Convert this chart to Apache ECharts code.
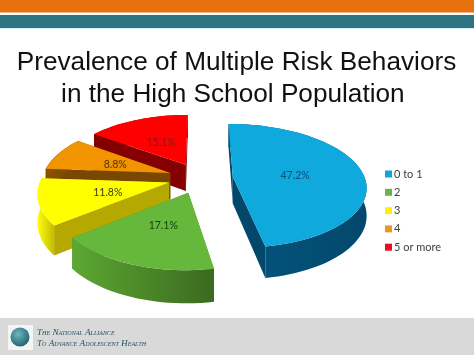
<!DOCTYPE html>
<html>
<head>
<meta charset="utf-8">
<style>
  html, body { margin: 0; padding: 0; background: #fff; }
  #chart { width: 474px; height: 355px; }
</style>
<script src="https://cdn.jsdelivr.net/npm/echarts@6/dist/echarts.min.js"></script>
</head>
<body>
<div id="chart"></div>
<script>
const categories = ['0 to 1', '2', '3', '4', '5 or more'];
const values = [47.2, 17.1, 11.8, 8.8, 15.1];
const drawOrder = [0, 4, 3, 2, 1]; // blue apart, then back to front
const topColors = ['#0FA9DE', '#66B83C', '#FFFF00', '#F29400', '#FF0000'];
const legendColors = ['#12A5D8', '#6BB350', '#FFF200', '#E9991F', '#E8101C'];
const wallColors = [
  { inner: '#03476B', outerFrom: '#03567E', outerTo: '#03486C' },
  { inner: '#4E8F2B', outerFrom: '#5CA732', outerTo: '#3B6A1F' },
  { inner: '#B5A800', outerFrom: '#FFFF10', outerTo: '#C4BC00' },
  { inner: '#7A4700', outerFrom: '#8A5200', outerTo: '#7A4700' },
  { inner: '#850000', outerFrom: '#850000', outerTo: '#700000' }
];
const labelColors = ['#0B4F78', '#123D0E', '#3A3A10', '#4A3510', '#8C1414'];

// tilted pie projection
const cx = 200, cy = 178;
const scaleXRight = 132, scaleXLeft = 128, scaleY = 61;
const perspective = 0.149;
const explode = 0.25;
const depth = 27;

const total = values.reduce((a, b) => a + b, 0);

function project(slice, r, theta) {
  const X = r * Math.sin(theta) + explode * Math.sin(slice.mid);
  const Y = -r * Math.cos(theta) - explode * Math.cos(slice.mid);
  const s = 1 / (1 - perspective * Y);
  const scaleX = X < 0 ? scaleXLeft : scaleXRight;
  return { x: cx + X * scaleX * s, y: cy + Y * scaleY * s, s };
}

let running = 0;
const slices = values.map(v => {
  const start = running / total * Math.PI * 2;
  running += v;
  const end = running / total * Math.PI * 2;
  return { start, end, mid: (start + end) / 2 };
});

function renderSlice(i) {
  return function () {
    const slice = slices[i];
    const walls = wallColors[i];
    const steps = Math.max(8, Math.round((slice.end - slice.start) * 24));
    const apex = project(slice, 0, 0);
    const rim = [];
    for (let k = 0; k <= steps; k++) {
      rim.push(project(slice, 1, slice.start + (slice.end - slice.start) * k / steps));
    }
    const drop = p => [p.x, p.y + depth * p.s];
    const flat = p => [p.x, p.y];
    const quad = (pts, fill) => ({ type: 'polygon', shape: { points: pts }, style: { fill: fill } });

    const outer = rim.map(flat).concat(rim.slice().reverse().map(drop));
    const first = rim[0], last = rim[rim.length - 1];
    const inner = [[first, apex], [last, apex]].sort((a, b) => (a[0].y) - (b[0].y));
    const outerFill = new echarts.graphic.LinearGradient(0, 0, 1, 0, [
      { offset: 0, color: walls.outerFrom },
      { offset: 1, color: walls.outerTo }
    ]);

    const children = [];
    inner.forEach(edge => {
      children.push(quad([flat(edge[0]), flat(edge[1]), drop(edge[1]), drop(edge[0])], walls.inner));
    });
    children.push(quad(outer, outerFill));
    children.push(quad([flat(apex)].concat(rim.map(flat)), topColors[i]));

    const lab = project(slice, 0.48, slice.mid);
    children.push({
      type: 'text',
      style: {
        x: lab.x, y: lab.y + 1,
        text: values[i].toFixed(1) + '%',
        fill: labelColors[i],
        font: '10.5px Lato, "Open Sans", sans-serif',
        align: 'center',
        verticalAlign: 'middle'
      }
    });
    return { type: 'group', children: children };
  };
}

const chart = echarts.init(document.getElementById('chart'), null, { renderer: 'canvas' });

const option = {
  animation: false,
  backgroundColor: '#fff',
  title: {
    text: 'Prevalence of Multiple Risk Behaviors\nin the High School Population ',
    left: 236.5,
    top: 47,
    padding: 0,
    textAlign: 'center',
    textStyle: {
      color: '#111',
      fontFamily: '"Liberation Sans", Arial, sans-serif',
      fontSize: 26.2,
      fontWeight: 'normal',
      lineHeight: 32
    }
  },
  legend: {
    orient: 'vertical',
    left: 385,
    top: 168,
    itemWidth: 7,
    itemHeight: 7,
    itemGap: 6.3,
    padding: 0,
    data: categories.map((name, i) => ({ name, icon: 'rect', itemStyle: { color: legendColors[i] } })),
    textStyle: {
      color: '#404040',
      fontFamily: 'Lato, "Open Sans", sans-serif',
      fontSize: 11,
      padding: [0, 0, 0, -3],
      lineHeight: 12
    }
  },
  graphic: [
    { type: 'rect', z: -10, shape: { x: 0, y: 0, width: 474, height: 12.5 }, style: { fill: '#E8710F' } },
    { type: 'rect', z: -10, shape: { x: 0, y: 15, width: 474, height: 13 }, style: { fill: '#2B7480' } },
    { type: 'rect', z: -10, shape: { x: 0, y: 28, width: 474, height: 1 }, style: { fill: '#CFEFF2' } },
    { type: 'rect', z: -10, shape: { x: 0, y: 318, width: 474, height: 37 }, style: { fill: '#D9D9D9' } },
    { type: 'rect', z: -9, shape: { x: 8, y: 325, width: 25, height: 25 }, style: { fill: '#F4F6F6' } },
    {
      type: 'circle', z: -8, shape: { cx: 20, cy: 337, r: 9.5 },
      style: {
        fill: new echarts.graphic.RadialGradient(0.4, 0.35, 0.7, [
          { offset: 0, color: '#6FB7BE' },
          { offset: 1, color: '#1F5F6C' }
        ])
      }
    },
    {
      type: 'text', z: -8, x: 37, y: 328,
      style: { text: 'The National Alliance', fill: '#24525C', font: 'italic small-caps 9.2px "Liberation Serif", serif' }
    },
    {
      type: 'text', z: -8, x: 37, y: 339,
      style: { text: 'To Advance Adolescent Health', fill: '#24525C', font: 'italic small-caps 9.2px "Liberation Serif", serif' }
    }
  ],
  series: categories.map((name, i) => ({
    name: name,
    type: 'custom',
    coordinateSystem: 'none',
    z: 2 + drawOrder.indexOf(i),
    silent: true,
    itemStyle: { color: legendColors[i] },
    renderItem: renderSlice(i),
    data: [values[i]]
  }))
};

chart.setOption(option);
</script>
</body>
</html>
